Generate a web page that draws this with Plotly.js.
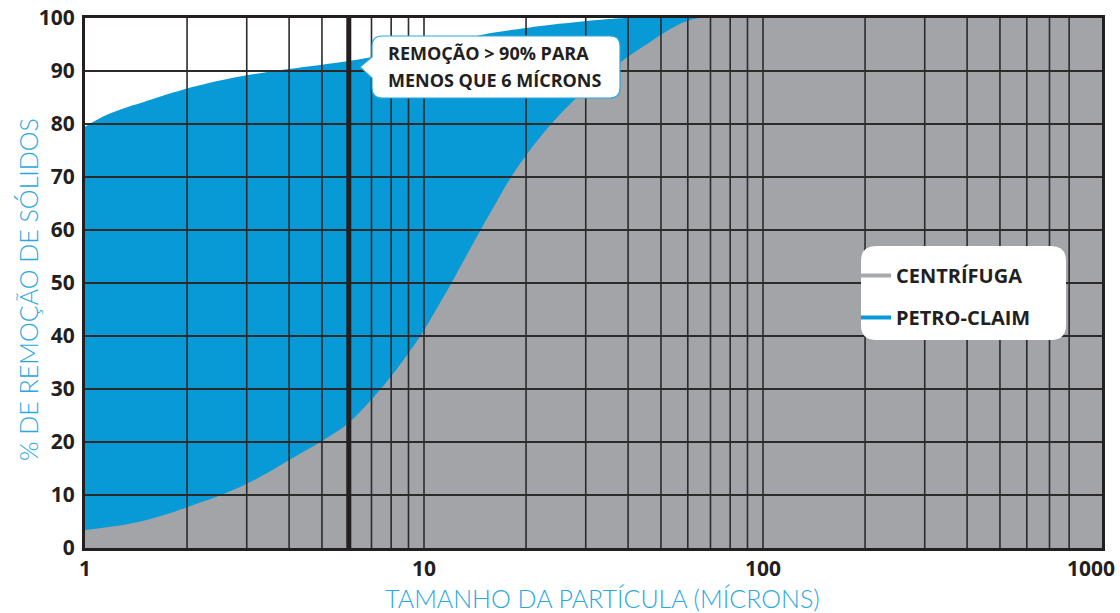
<!DOCTYPE html>
<html><head><meta charset="utf-8">
<script src="https://cdn.plot.ly/plotly-3.0.1.min.js"></script>
<style>html,body{margin:0;padding:0;background:#fff;} #chart{width:1120px;height:613px;}</style>
</head><body><div id="chart"></div>
<script>
// ---- data ----
const petroX = [1, 1.1, 1.2, 1.35, 1.5, 1.75, 2, 2.5, 3, 4, 5, 6, 8, 10, 12, 15, 20, 25, 30, 35, 40, 1000];
const petroY = [79.5, 81.0, 82.1, 83.3, 84.2, 85.6, 86.7, 88.2, 89.2, 90.4, 91.2, 91.9, 93.2, 94.3, 95.5, 96.9, 98.1, 98.9, 99.4, 99.8, 100, 100];
const centX = [1, 1.25, 1.5, 1.75, 2, 2.5, 3, 3.5, 4, 5, 6, 7, 8, 9, 10, 12, 14, 16, 18.5, 23, 29, 36.5, 46, 57, 65, 1000];
const centY = [3.4, 4.2, 5.2, 6.4, 7.7, 9.9, 12.1, 14.4, 16.6, 20.2, 23.6, 28.0, 32.4, 36.8, 41.1, 49.8, 57.6, 64.2, 71.0, 79.0, 85.7, 90.9, 95.3, 98.9, 100, 100];
const seriesNames = ['CENTRÍFUGA', 'PETRO-CLAIM'];
const xTickVals = [1, 10, 100, 1000];
const xTickText = ['1', '10', '100', '1000'];
const yTickVals = [0, 10, 20, 30, 40, 50, 60, 70, 80, 90, 100];
const xGrid = [2, 3, 4, 5, 6, 7, 8, 9, 10, 20, 30, 40, 50, 60, 70, 80, 90, 100, 200, 300, 400, 500, 600, 700, 800];
const yGrid = [10, 20, 30, 40, 50, 60, 70, 80, 90];
const markerX = 6;
const calloutLines = ['REMOÇÃO > 90% PARA', 'MENOS QUE 6 MÍCRONS'];
const xTitle = 'TAMANHO DA PARTÍCULA (MÍCRONS)';
const yTitle = '% DE REMOÇÃO DE SÓLIDOS';

// ---- style ----
const BLUE = '#079AD6', GRAY = '#A2A4A8', INK = '#231F20', TITLE_BLUE = '#2AA7E0';
const M = {l: 85, r: 18, t: 18, b: 65};
const W = 1120, H = 613;
const PW = W - M.l - M.r, PH = H - M.t - M.b;
const px = x => (x - M.l) / PW;
const py = y => (H - M.b - y) / PH;

function roundRect(x0, y0, x1, y1, r, ptr) {
  let p = `M${px(x0 + r)},${py(y0)} L${px(x1 - r)},${py(y0)} Q${px(x1)},${py(y0)} ${px(x1)},${py(y0 + r)}`;
  p += ` L${px(x1)},${py(y1 - r)} Q${px(x1)},${py(y1)} ${px(x1 - r)},${py(y1)}`;
  p += ` L${px(x0 + r)},${py(y1)} Q${px(x0)},${py(y1)} ${px(x0)},${py(y1 - r)}`;
  if (ptr) {
    p += ` L${px(x0)},${py(ptr.yb)} L${px(ptr.tx)},${py(ptr.ty)} L${px(x0)},${py(ptr.yt)}`;
  }
  p += ` L${px(x0)},${py(y0 + r)} Q${px(x0)},${py(y0)} ${px(x0 + r)},${py(y0)} Z`;
  return p;
}

const traces = [
  {x: petroX, y: petroY, type: 'scatter', mode: 'lines', fill: 'tozeroy', fillcolor: BLUE,
   line: {width: 0, color: BLUE, shape: 'spline', smoothing: 0.9}, showlegend: false, hoverinfo: 'skip'},
  {x: centX, y: centY, type: 'scatter', mode: 'lines', fill: 'tozeroy', fillcolor: GRAY,
   line: {width: 0, color: GRAY, shape: 'spline', smoothing: 0.9}, showlegend: false, hoverinfo: 'skip'},
  {x: [null], y: [null], type: 'scatter', mode: 'lines', name: seriesNames[0], legendgroup: 'a',
   line: {color: '#A7A9AC', width: 4}},
  {x: [null], y: [null], type: 'scatter', mode: 'lines', name: seriesNames[1], legendgroup: 'b',
   line: {color: BLUE, width: 4}}
];

const shapes = [];
xGrid.forEach(v => shapes.push({type: 'line', xref: 'x', yref: 'paper', x0: v, x1: v, y0: 0, y1: 1,
  layer: 'above', line: {color: '#2b2b2b', width: 1.6}}));
yGrid.forEach(v => shapes.push({type: 'line', xref: 'paper', yref: 'y', x0: 0, x1: 1, y0: v, y1: v,
  layer: 'above', line: {color: '#2b2b2b', width: 1.8}}));
shapes.push({type: 'line', xref: 'x', yref: 'paper', x0: markerX, x1: markerX, y0: 0, y1: 1,
  layer: 'above', line: {color: INK, width: 5}});
shapes.push({type: 'path', xref: 'paper', yref: 'paper', layer: 'above',
  path: roundRect(372, 36, 620, 98, 10, {yb: 78, tx: 360, ty: 67, yt: 57}),
  fillcolor: '#ffffff', line: {color: TITLE_BLUE, width: 1.2}});
shapes.push({type: 'path', xref: 'paper', yref: 'paper', layer: 'above',
  path: roundRect(861, 246, 1066, 340, 15),
  fillcolor: '#ffffff', line: {width: 0}});

const boldFont = {family: 'Open Sans, Noto Sans, sans-serif', size: 21, color: INK, weight: 700};
const calloutFont = {family: 'Open Sans, sans-serif', size: 18, color: INK, weight: 700};
const titleFont = {family: 'Lato, sans-serif', size: 25, color: TITLE_BLUE, weight: 300};

// the last tick label sits flush with the right edge (as in the reference), so it is drawn as an annotation
const lastIdx = xTickText.length - 1;
const xTickTextShown = xTickText.map((t, i) => i === lastIdx ? '' : t);

const layout = {
  width: W, height: H,
  margin: M,
  paper_bgcolor: '#ffffff', plot_bgcolor: '#ffffff',
  showlegend: true,
  legend: {x: px(856), y: py(256), xanchor: 'left', yanchor: 'top', bgcolor: 'rgba(0,0,0,0)',
    traceorder: 'grouped', tracegroupgap: 13, font: {family: 'Open Sans, sans-serif', size: 20, color: INK, weight: 700}},
  xaxis: {type: 'log', range: [0, 3], tickvals: xTickVals, ticktext: xTickTextShown, showgrid: false,
    zeroline: false, showline: true, mirror: true, linewidth: 3, linecolor: INK, layer: 'above traces',
    ticks: '', tickfont: boldFont, ticklabelstandoff: 0},
  yaxis: {range: [0, 100], tickvals: yTickVals, showgrid: false, zeroline: false, showline: true, mirror: true,
    linewidth: 3, linecolor: INK, layer: 'above traces', ticks: '', tickfont: boldFont, ticklabelstandoff: 3},
  shapes: shapes,
  annotations: [
    {xref: 'x', yref: 'paper', x: Math.log10(xTickVals[lastIdx]), y: py(568), xanchor: 'right', yanchor: 'middle',
     xshift: 15, showarrow: false, text: xTickText[lastIdx], font: boldFont},
    {xref: 'paper', yref: 'paper', x: px(386), y: py(53), xanchor: 'left', yanchor: 'middle',
     align: 'left', showarrow: false, text: calloutLines[0], font: calloutFont},
    {xref: 'paper', yref: 'paper', x: px(386), y: py(80), xanchor: 'left', yanchor: 'middle',
     align: 'left', showarrow: false, text: calloutLines[1], font: calloutFont},
    {xref: 'paper', yref: 'paper', x: px(602), y: py(598), xanchor: 'center', yanchor: 'middle',
     showarrow: false, text: xTitle, font: titleFont},
    {xref: 'paper', yref: 'paper', x: px(28), y: py(290), xanchor: 'center', yanchor: 'middle',
     showarrow: false, text: yTitle, textangle: -90, font: titleFont}
  ]
};

Plotly.newPlot('chart', traces, layout, {displayModeBar: false, staticPlot: true});
</script>
</body></html>
